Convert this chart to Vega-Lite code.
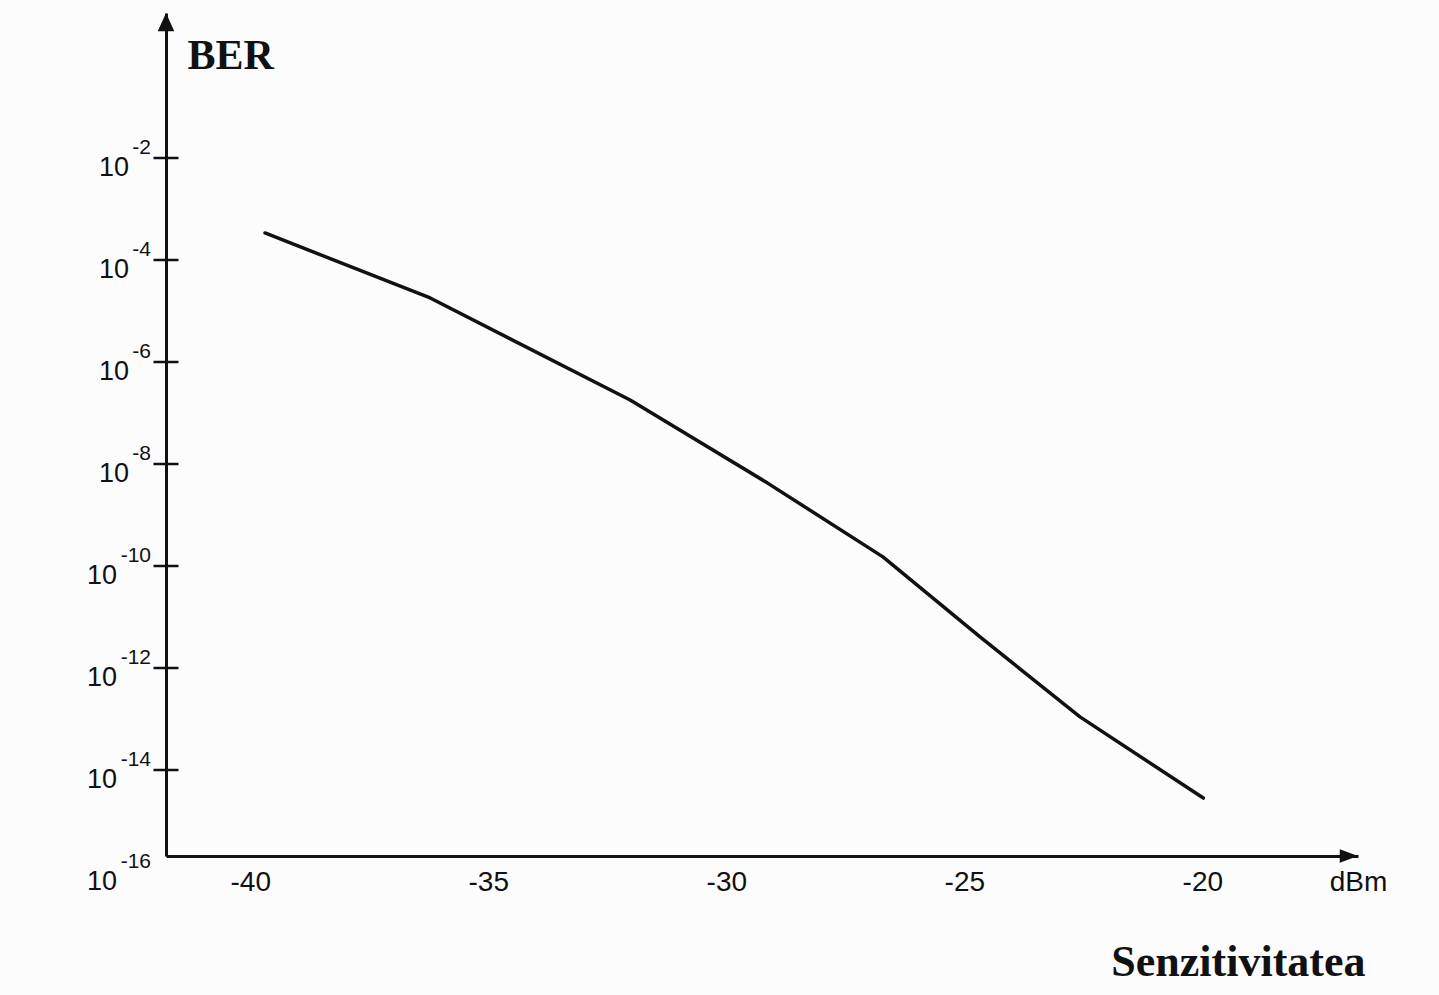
{
  "$schema": "https://vega.github.io/schema/vega-lite/v6.json",
  "autosize": {"type": "none"},
  "padding": {"left": 166, "top": 13, "right": 81, "bottom": 139},
  "width": 1192,
  "height": 843,
  "background": "#fcfcfc",
  "config": {"view": {"stroke": null}},
  "datasets": {
    "curve": [
      {"dbm": -39.69, "ber": 3.39e-4},
      {"dbm": -36.22, "ber": 1.80e-5},
      {"dbm": -32.02, "ber": 1.80e-7},
      {"dbm": -29.14, "ber": 4.27e-9},
      {"dbm": -26.71, "ber": 1.51e-10},
      {"dbm": -24.67, "ber": 4.07e-12},
      {"dbm": -22.57, "ber": 1.10e-13},
      {"dbm": -19.98, "ber": 2.82e-15}
    ],
    "yticks": [
      {"ber": 1e-2, "exp": "-2"},
      {"ber": 1e-4, "exp": "-4"},
      {"ber": 1e-6, "exp": "-6"},
      {"ber": 1e-8, "exp": "-8"},
      {"ber": 1e-10, "exp": "-10"},
      {"ber": 1e-12, "exp": "-12"},
      {"ber": 1e-14, "exp": "-14"},
      {"ber": 1e-16, "exp": "-16"}
    ]
  },
  "layer": [
    {
      "data": {"name": "curve"},
      "mark": {"type": "line", "color": "#111", "strokeWidth": 3.5, "strokeJoin": "round", "strokeCap": "round"},
      "encoding": {
        "x": {
          "field": "dbm",
          "type": "quantitative",
          "scale": {"domain": [-41.77, -16.73], "nice": false, "zero": false},
          "axis": {
            "values": [-40, -35, -30, -25, -20, -16.73],
            "labelExpr": "datum.value > -17 ? 'dBm' : '-' + abs(datum.value)",
            "ticks": false,
            "tickSize": 0,
            "grid": false,
            "domain": true,
            "domainColor": "#111",
            "domainWidth": 3,
            "labelFont": "Liberation Sans",
            "labelFontSize": 28,
            "labelColor": "#111",
            "labelPadding": 12,
            "labelFlush": false,
            "labelOverlap": false,
            "labelBound": false,
            "title": "Senzitivitatea",
            "titleFont": "Liberation Serif",
            "titleFontWeight": "bold",
            "titleFontSize": 44,
            "titleColor": "#111",
            "titleX": 1199,
            "titleY": 119,
            "titleAlign": "right",
            "titleBaseline": "alphabetic"
          }
        },
        "y": {
          "field": "ber",
          "type": "quantitative",
          "scale": {"type": "log", "domain": [2.06e-16, 6.97], "nice": false},
          "axis": {
            "ticks": false,
            "labels": false,
            "grid": false,
            "domain": true,
            "domainColor": "#111",
            "domainWidth": 3,
            "title": "BER",
            "titleAngle": 0,
            "titleFont": "Liberation Serif",
            "titleFontWeight": "bold",
            "titleFontSize": 42,
            "titleColor": "#111",
            "titleX": 21,
            "titleY": 55,
            "titleAlign": "left",
            "titleBaseline": "alphabetic"
          }
        }
      }
    },
    {
      "data": {"name": "yticks"},
      "transform": [{"filter": "datum.ber > 1e-15"}],
      "mark": {"type": "tick", "orient": "horizontal", "size": 25, "thickness": 2.5, "color": "#111", "opacity": 1},
      "encoding": {
        "x": {"datum": -41.77, "type": "quantitative"},
        "y": {"field": "ber", "type": "quantitative"}
      }
    },
    {
      "data": {"name": "yticks"},
      "mark": {"type": "text", "align": "right", "baseline": "middle", "dx": -15, "dy": -10, "fontSize": 21, "font": "Liberation Sans", "color": "#111"},
      "encoding": {
        "x": {"datum": -41.77, "type": "quantitative"},
        "y": {"field": "ber", "type": "quantitative"},
        "text": {"field": "exp"}
      }
    },
    {
      "data": {"name": "yticks"},
      "transform": [{"filter": "datum.ber > 1e-9"}],
      "mark": {"type": "text", "align": "right", "baseline": "middle", "dx": -37, "dy": 10, "fontSize": 27, "font": "Liberation Sans", "color": "#111"},
      "encoding": {
        "x": {"datum": -41.77, "type": "quantitative"},
        "y": {"field": "ber", "type": "quantitative"},
        "text": {"value": "10"}
      }
    },
    {
      "data": {"name": "yticks"},
      "transform": [{"filter": "datum.ber < 1e-9"}],
      "mark": {"type": "text", "align": "right", "baseline": "middle", "dx": -49, "dy": 10, "fontSize": 27, "font": "Liberation Sans", "color": "#111"},
      "encoding": {
        "x": {"datum": -41.77, "type": "quantitative"},
        "y": {"field": "ber", "type": "quantitative"},
        "text": {"value": "10"}
      }
    },
    {
      "data": {"values": [{"dbm": -41.77, "ber": 6.97}]},
      "mark": {"type": "point", "shape": "M0,0 L0.5,1.1 L-0.5,1.1 Z", "size": 1100, "filled": true, "color": "#111", "opacity": 1, "strokeWidth": 0},
      "encoding": {
        "x": {"field": "dbm", "type": "quantitative"},
        "y": {"field": "ber", "type": "quantitative"}
      }
    },
    {
      "data": {"values": [{"dbm": -16.73, "ber": 2.06e-16}]},
      "mark": {"type": "point", "shape": "M0,0 L-1.1,-0.4 L-1.1,0.4 Z", "size": 1100, "filled": true, "color": "#111", "opacity": 1, "strokeWidth": 0},
      "encoding": {
        "x": {"field": "dbm", "type": "quantitative"},
        "y": {"field": "ber", "type": "quantitative"}
      }
    }
  ]
}
